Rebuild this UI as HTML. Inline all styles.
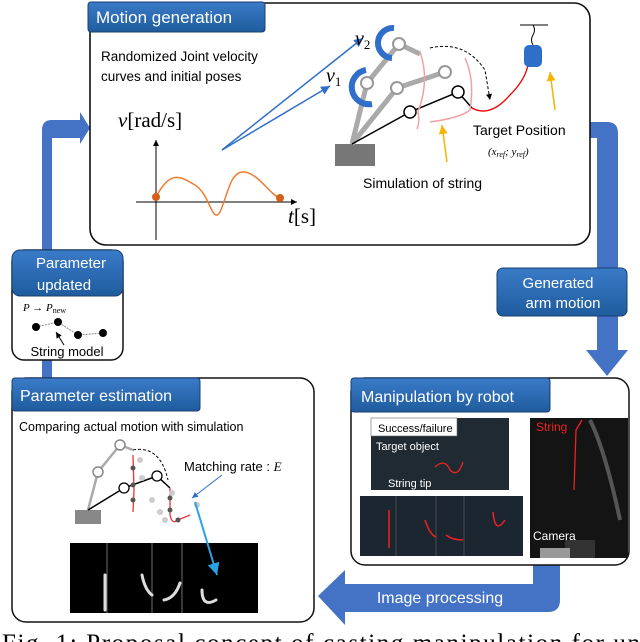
<!DOCTYPE html>
<html><head><meta charset="utf-8"><style>
html,body{margin:0;padding:0;background:#fff;}
svg{display:block;}
text{font-family:"Liberation Sans","DejaVu Sans",sans-serif;}
.s{font-family:"Liberation Serif",serif;}
</style></head><body>
<svg width="640" height="642" viewBox="0 0 640 642" xmlns="http://www.w3.org/2000/svg">
<defs>
<linearGradient id="tab" x1="0" y1="0" x2="0" y2="1"><stop offset="0" stop-color="#3a7bc8"/><stop offset="1" stop-color="#1f5c9e"/></linearGradient>
<marker id="ab" markerWidth="8" markerHeight="8" refX="6" refY="3" orient="auto"><path d="M0,0 L6,3 L0,6 z" fill="#2f6fc9"/></marker>
<marker id="ak" markerWidth="8" markerHeight="8" refX="6" refY="3" orient="auto"><path d="M0,0 L6,3 L0,6 z" fill="#000"/></marker>
<marker id="ay" markerWidth="8" markerHeight="8" refX="6" refY="3" orient="auto"><path d="M0,0 L6,3 L0,6 z" fill="#f5b400"/></marker>
<marker id="ac" markerWidth="8" markerHeight="8" refX="6" refY="3" orient="auto"><path d="M0,0 L6,3 L0,6 z" fill="#29a3e6"/></marker>
</defs>
<g fill="#4472c4">
<path d="M42,378 L42,130 Q42,120 52,120 L80,120 L80,112 L90,128 L80,144 L80,138 L52,138 L52,378 Z"/>
<path d="M588,122 L607,122 Q618,122 618,133 L618,350 L628,350 L607,376 L586,350 L597,350 L597,138 L588,138 Z"/>
<path d="M533,560 L560,560 L560,600 Q560,612 548,612 L345,612 L345,625 L318,596 L345,570 L345,584 L533,584 Z"/>
</g>
<rect x="90" y="3" width="500" height="242" rx="16" fill="#fff" stroke="#111" stroke-width="1.6"/>
<rect x="88" y="2" width="177" height="30" rx="3" fill="url(#tab)" stroke="#1a3f6e"/>
<text x="96" y="23" font-size="17" fill="#fff">Motion generation</text>
<text x="101" y="61" font-size="13.5">Randomized Joint velocity</text>
<text x="101" y="81" font-size="13.5">curves and initial poses</text>
<text x="118" y="127" font-size="21" class="s"><tspan font-style="italic">v</tspan>[rad/s]</text>
<line x1="156" y1="240" x2="156" y2="140" stroke="#000" marker-end="url(#ak)"/>
<line x1="136" y1="202" x2="297" y2="202" stroke="#000" marker-end="url(#ak)"/>
<text x="288" y="223" font-size="21" class="s"><tspan font-style="italic">t</tspan>[s]</text>
<path d="M156,197 C170,170 180,176 195,185 C210,194 212,225 220,212 C228,195 230,170 245,172 C260,175 270,195 280,198" fill="none" stroke="#ed7d31" stroke-width="1.5"/>
<circle cx="156" cy="197" r="4" fill="#d4601a"/><circle cx="280" cy="198" r="4" fill="#d4601a"/>
<line x1="222" y1="150" x2="363" y2="38" stroke="#2f6fc9" stroke-width="1.5" marker-end="url(#ab)"/>
<line x1="222" y1="150" x2="330" y2="86" stroke="#2f6fc9" stroke-width="1.5" marker-end="url(#ab)"/>
<text x="355" y="45" font-size="20" class="s" font-style="italic">v<tspan font-size="13" dy="4" font-style="normal">2</tspan></text>
<text x="326" y="82" font-size="20" class="s" font-style="italic">v<tspan font-size="13" dy="4" font-style="normal">1</tspan></text>
<rect x="335" y="144" width="40" height="22" fill="#777"/>
<g stroke="#aaa" stroke-width="5" fill="none">
<path d="M352,144 L367,83 L399,44 L420,54"/>
<path d="M352,144 L397,88 L445,72"/>
</g>
<path d="M352,144 L410,112 L458,92 L472,108" stroke="#000" stroke-width="1.5" fill="none"/>
<path d="M472,108 Q490,118 510,95 Q525,80 528,65" stroke="#e00" stroke-width="1.3" fill="none"/>
<path d="M430,48 Q465,40 485,70 L490,100" stroke="#000" stroke-dasharray="3,2" fill="none" marker-end="url(#ak)"/>
<path d="M420,52 Q430,80 418,112 Q420,122 417,129" stroke="#f4a0a0" stroke-width="1.5" fill="none"/>
<path d="M465,58 Q475,80 470,110 Q460,118 430,122" stroke="#f4a0a0" stroke-width="1.5" fill="none"/>
<g fill="#fff" stroke="#999" stroke-width="2">
<circle cx="367" cy="83" r="6"/><circle cx="399" cy="44" r="6"/><circle cx="397" cy="88" r="6"/><circle cx="445" cy="72" r="6"/>
</g>
<g fill="#fff" stroke="#000" stroke-width="1.5"><circle cx="410" cy="112" r="6"/><circle cx="458" cy="92" r="6"/></g>
<path d="M366,70 A14,14 0 0 0 372,104" stroke="#2f6fc9" stroke-width="6" fill="none"/>
<path d="M394,28 A14,14 0 0 0 392,58" stroke="#2f6fc9" stroke-width="6" fill="none"/>
<line x1="520" y1="25" x2="548" y2="25" stroke="#000"/>
<path d="M533,25 q3,5 0,10 q-3,5 0,10" stroke="#000" fill="none"/>
<rect x="524" y="45" width="18" height="22" rx="5" fill="#2f6fc9"/>
<line x1="555" y1="110" x2="550" y2="72" stroke="#f5b400" stroke-width="1.5" marker-end="url(#ay)"/>
<line x1="447" y1="162" x2="442" y2="125" stroke="#f5b400" stroke-width="1.5" marker-end="url(#ay)"/>
<text x="473" y="135" font-size="14">Target Position</text>
<text x="488" y="155" font-size="11" class="s" font-style="italic">(x<tspan font-size="8" dy="2">ref</tspan><tspan dy="-2">; y</tspan><tspan font-size="8" dy="2">ref</tspan><tspan dy="-2">)</tspan></text>
<text x="363" y="188" font-size="14">Simulation of string</text>
<rect x="497" y="268" width="130" height="48" rx="6" fill="url(#tab)" stroke="#1a3f6e"/>
<text x="558" y="288" font-size="15" fill="#fff" text-anchor="middle">Generated</text>
<text x="563" y="308" font-size="15" fill="#fff" text-anchor="middle">arm motion</text>
<rect x="12" y="250" width="111" height="110" rx="12" fill="#fff" stroke="#111" stroke-width="1.5"/>
<rect x="12" y="250" width="111" height="46" rx="8" fill="url(#tab)" stroke="#1a3f6e"/>
<text x="71" y="268" font-size="15" fill="#fff" text-anchor="middle">Parameter</text>
<text x="64" y="290" font-size="15" fill="#fff" text-anchor="middle">updated</text>
<text x="23" y="311" font-size="11" class="s" font-style="italic">P → P<tspan font-size="8" dy="2" font-style="normal">new</tspan></text>
<path d="M36,327 L58,322 L78,335 L103,333" stroke="#888" stroke-dasharray="2,1" fill="none"/>
<g fill="#000"><circle cx="36" cy="327" r="4"/><circle cx="58" cy="322" r="4"/><circle cx="78" cy="335" r="4"/><circle cx="103" cy="333" r="4"/></g>
<line x1="64" y1="345" x2="56" y2="332" stroke="#000" marker-end="url(#ak)"/>
<text x="67" y="356" font-size="13" text-anchor="middle">String model</text>
<rect x="12" y="378" width="302" height="244" rx="14" fill="#fff" stroke="#111" stroke-width="1.5"/>
<rect x="12" y="378" width="188" height="33" rx="3" fill="url(#tab)" stroke="#1a3f6e"/>
<text x="20" y="401" font-size="16" fill="#fff">Parameter estimation</text>
<text x="19" y="431" font-size="12.5">Comparing actual motion with simulation</text>
<rect x="75" y="510" width="26" height="14" fill="#888"/>
<path d="M88,510 L98,472 L120,445 L133,450" stroke="#aaa" stroke-width="2.5" fill="none"/>
<path d="M88,510 L124,488 L157,476 L170,488" stroke="#000" stroke-width="1.5" fill="none"/>
<path d="M133,450 Q160,445 168,480" stroke="#000" stroke-dasharray="3,2" fill="none"/>
<path d="M133,455 L134,490 L133,512 M170,488 L170,515 Q172,525 178,520 L190,515" stroke="#e33" stroke-width="1.3" fill="none"/>
<g fill="#555"><circle cx="133" cy="468" r="2.5"/><circle cx="133" cy="485" r="2.5"/><circle cx="133" cy="500" r="2.5"/><circle cx="170" cy="498" r="2.5"/><circle cx="170" cy="510" r="2.5"/><circle cx="178" cy="520" r="2.5"/></g>
<g fill="#ccc"><circle cx="140" cy="460" r="3"/><circle cx="142" cy="478" r="3"/><circle cx="152" cy="500" r="3"/><circle cx="160" cy="512" r="3"/><circle cx="165" cy="520" r="3"/><circle cx="197" cy="505" r="3"/><circle cx="172" cy="493" r="3"/></g>
<g fill="#fff" stroke="#888" stroke-width="1.5"><circle cx="98" cy="472" r="5"/><circle cx="120" cy="445" r="5"/></g>
<g fill="#fff" stroke="#000" stroke-width="1.3"><circle cx="124" cy="488" r="5"/><circle cx="157" cy="476" r="5"/></g>
<text x="184" y="471" font-size="13">Matching rate : <tspan class="s" font-style="italic">E</tspan></text>
<line x1="222" y1="475" x2="192" y2="498" stroke="#2f6fc9" stroke-width="1" marker-end="url(#ab)"/>
<rect x="70" y="543" width="188" height="70" fill="#000"/>
<g stroke="#888" stroke-width="0.8"><line x1="107" y1="543" x2="107" y2="613"/><line x1="152" y1="543" x2="152" y2="613"/><line x1="182" y1="543" x2="182" y2="613"/></g>
<g stroke="#ddd" stroke-width="3" fill="none" stroke-linecap="round"><path d="M105,575 L105,610"/><path d="M142,575 Q145,590 152,595"/><path d="M164,600 Q175,598 180,583"/><path d="M202,590 Q202,608 216,600"/></g>
<line x1="195" y1="502" x2="217" y2="575" stroke="#29a3e6" stroke-width="2" marker-end="url(#ac)"/>
<rect x="351" y="378" width="278" height="187" rx="14" fill="#fff" stroke="#111" stroke-width="1.5"/>
<rect x="351" y="378" width="199" height="34" rx="3" fill="url(#tab)" stroke="#1a3f6e"/>
<text x="361" y="402" font-size="16" fill="#fff">Manipulation by robot</text>
<rect x="371" y="418" width="138" height="72" fill="#1f2a33"/>
<rect x="371" y="418" width="86" height="18" fill="#fff" stroke="#666" stroke-width="0.6"/>
<text x="378" y="432" font-size="11">Success/failure</text>
<text x="376" y="450" font-size="11" fill="#fff">Target object</text>
<text x="388" y="487" font-size="11" fill="#fff">String tip</text>
<path d="M435,467 Q445,458 450,470 Q458,478 463,462" stroke="#e22" stroke-width="1.3" fill="none"/>
<rect x="360" y="496" width="163" height="60" fill="#1b2630"/>
<g stroke="#555" stroke-width="0.8"><line x1="396" y1="496" x2="396" y2="556"/><line x1="436" y1="496" x2="436" y2="556"/><line x1="464" y1="496" x2="464" y2="556"/></g>
<g stroke="#e22" stroke-width="1.5" fill="none"><path d="M389,510 L389,548"/><path d="M425,520 Q430,535 436,537"/><path d="M446,535 Q452,540 463,540"/><path d="M493,512 Q495,535 505,520"/></g>
<rect x="530" y="418" width="98" height="140" fill="#141414"/>
<text x="536" y="431" font-size="12" fill="#e22">String</text>
<path d="M574,490 L576,430 L582,420" stroke="#e22" stroke-width="1.3" fill="none"/>
<path d="M590,420 Q605,450 620,520" stroke="#555" stroke-width="4" fill="none"/>
<text x="533" y="540" font-size="12" fill="#fff">Camera</text>
<rect x="565" y="540" width="30" height="18" fill="#333"/>
<rect x="540" y="548" width="30" height="10" fill="#999"/>
<text x="440" y="603" font-size="16" fill="#fff" text-anchor="middle">Image processing</text>
<text x="2" y="651" font-size="25" class="s" textLength="638" lengthAdjust="spacing">Fig. 1: Proposal concept of casting manipulation for un</text>
</svg>
</body></html>
